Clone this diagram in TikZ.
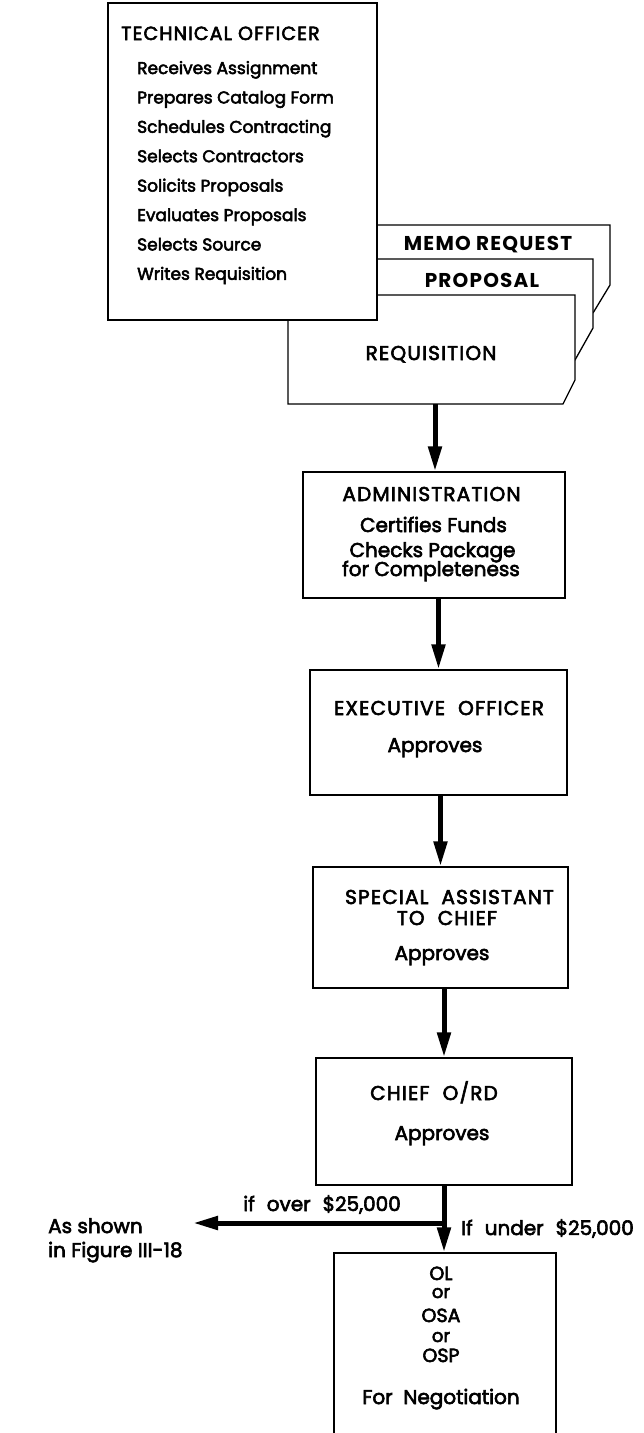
\documentclass[tikz,border=0pt]{standalone}
\usepackage{fontspec}
\setmainfont{Poppins}[UprightFeatures={FakeBold=3}]
\usetikzlibrary{arrows.meta}
\newcommand{\capsp}{\addfontfeature{LetterSpace=6}}
\newcommand{\gap}{\hspace{12pt}}
\begin{document}
\begin{tikzpicture}[x=1pt,y=-1pt,
  box/.style={draw, line width=1.3pt, fill=white, inner sep=0pt},
  docshape/.style={draw, line width=1.3pt, fill=white, line join=miter},
  arr/.style={line width=5pt, -{Triangle[length=25pt,width=13pt]}},
  t/.style={inner sep=0pt, anchor=base, font=\fontsize{20}{22}\selectfont},
  tc/.style={t, font=\fontsize{20}{22}\selectfont\capsp},
  tl/.style={inner sep=0pt, anchor=base west, font=\fontsize{17}{19}\selectfont},
  tb/.style={inner sep=0pt, anchor=base, font=\fontsize{20}{22}\selectfont\bfseries\capsp}]
\clip (0,0) rectangle (643,1433);
% documents (back to front)
\draw[docshape] (300,225) -- (610,225) -- (610,285) -- (593,313);
\draw[docshape] (300,259) -- (593,259) -- (593,328) -- (575,360) -- (300,360) -- cycle;
\draw[docshape] (288,295) -- (575,295) -- (575,380) -- (563,404) -- (288,404) -- cycle;
\coordinate (reqbot) at (435,404);
% technical officer
\node[box, minimum width=269pt, minimum height=317pt] (to) at (242.5,161.5) {};
\node[tl, font=\fontsize{19}{21}\selectfont\capsp] (tohead) at (121,40) {TECHNICAL OFFICER};
\foreach \i/\s in {0/Receives Assignment, 1/Prepares Catalog Form, 2/Schedules Contracting,
  3/Selects Contractors, 4/Solicits Proposals, 5/Evaluates Proposals, 6/Selects Source,
  7/Writes Requisition}
  \node[tl] (tol\i) at (137,{74+29.4*\i}) {\s};
\node[tb] (memo) at (488,250) {MEMO\ REQUEST};
\node[tb] (prop) at (482,287) {PROPOSAL};
\node[tc] (req) at (431,360) {REQUISITION};
% administration
\node[box, minimum width=262pt, minimum height=126pt] (admin) at (434,535) {};
\node[tc] (adm1) at (431.5,501) {ADMINISTRATION};
\node[t] (adm2) at (433.5,532) {Certifies Funds};
\node[t] (adm3) at (432.5,557) {Checks Package};
\node[t] (adm4) at (431,576) {for Completeness};
% executive officer
\node[box, minimum width=257pt, minimum height=125pt] (exec) at (438.5,732.5) {};
\node[tc] (ex1) at (439,715) {EXECUTIVE\ \ OFFICER};
\node[t] (ex2) at (435,752) {Approves};
% special assistant
\node[box, minimum width=255pt, minimum height=121pt] (spec) at (440.5,927.5) {};
\node[tc] (sp1) at (449.5,904) {SPECIAL\ \ ASSISTANT};
\node[tc] (sp2) at (447,925) {TO\ \ CHIEF};
\node[t] (sp3) at (442,960) {Approves};
% chief
\node[box, minimum width=256pt, minimum height=127pt] (chief) at (444,1121.5) {};
\node[tc] (ch1) at (434,1100) {CHIEF\ \ O/RD};
\node[t] (ch2) at (442,1140) {Approves};
% OL box
\node[box, minimum width=222pt, minimum height=200pt] (ol) at (445,1353) {};
\node[tc, font=\fontsize{19}{21}\selectfont] (ol1) at (441,1280) {OL};
\node[t, font=\fontsize{18}{20}\selectfont] (ol2) at (441,1298) {or};
\node[tc, font=\fontsize{19}{21}\selectfont] (ol3) at (441,1322) {OSA};
\node[t, font=\fontsize{18}{20}\selectfont] (ol4) at (441,1342) {or};
\node[tc, font=\fontsize{19}{21}\selectfont] (ol5) at (441,1362) {OSP};
\node[t] (ol6) at (441,1404) {For\ \ Negotiation};
% labels
\node[t, anchor=base east] (over) at (401,1211) {if\gap over\gap \$25,000};
\node[t, anchor=base west] (under) at (461,1235) {If\gap under\gap \$25,000};
\node[t, anchor=base west] (as1) at (48,1233) {As shown};
\node[t, anchor=base west] (as2) at (48,1257) {in Figure III-18};
\coordinate (brend) at (193,1223);
% arrows
\draw[arr] (reqbot) -- (reqbot |- admin.north);
\draw[arr] (exec.north |- admin.south) -- (exec.north);
\draw[arr] (spec.north |- exec.south) -- (spec.north);
\draw[arr] (chief.north |- spec.south) -- (chief.north);
\draw[arr] (chief.south) -- (chief.south |- ol.north);
\draw[arr] ([xshift=2.5pt]chief.south |- brend) -- (brend);
\end{tikzpicture}
\end{document}
